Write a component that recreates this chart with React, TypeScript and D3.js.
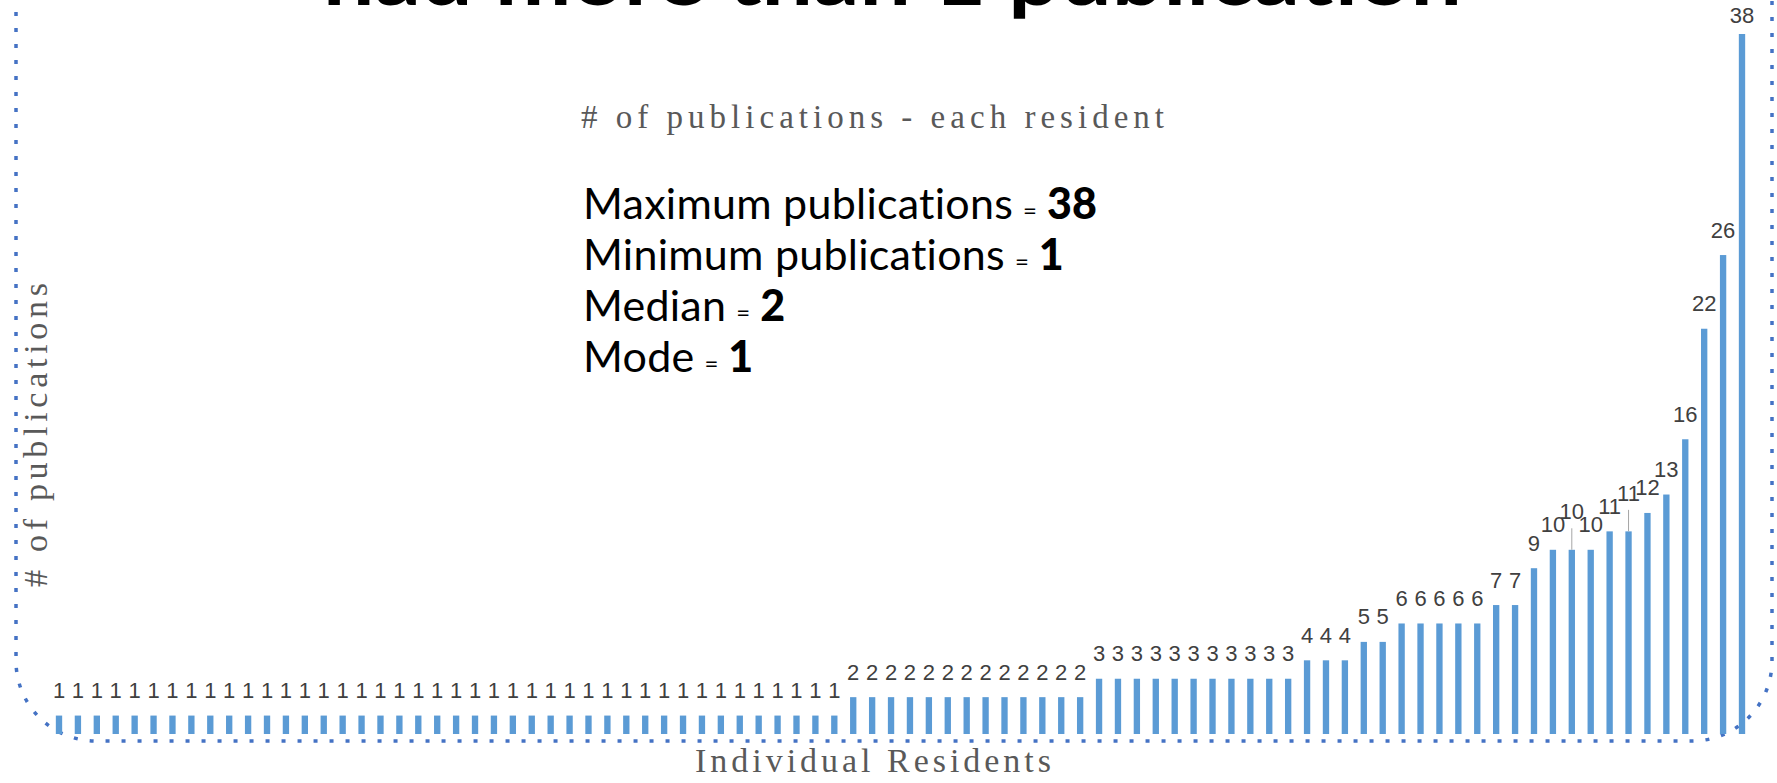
import * as d3 from "d3";
import React, { useEffect, useRef } from "react";

const publications = [
  1, 1, 1, 1, 1, 1, 1, 1, 1, 1, 1, 1, 1, 1, 1, 1, 1, 1, 1, 1, 1,
  1, 1, 1, 1, 1, 1, 1, 1, 1, 1, 1, 1, 1, 1, 1, 1, 1, 1, 1, 1, 1,
  2, 2, 2, 2, 2, 2, 2, 2, 2, 2, 2, 2, 2,
  3, 3, 3, 3, 3, 3, 3, 3, 3, 3, 3,
  4, 4, 4,
  5, 5,
  6, 6, 6, 6, 6,
  7, 7,
  9, 10, 10, 10, 11, 11, 12, 13, 16, 22, 26, 38,
];

// labels that Excel pushed up with a leader line
const liftedLabels = [80, 83];

const statNames = ["Maximum publications", "Minimum publications", "Median", "Mode"];
const statValues = ["38", "1", "2", "1"];

const W = 1777, H = 783;

export default function App() {
  const ref = useRef<SVGSVGElement>(null);

  useEffect(() => {
    const svg = d3.select(ref.current);
    svg.selectAll("*").remove();

    const x = d3.scalePoint<number>()
      .domain(publications.map((_, i) => i))
      .range([59, 1742]);
    const y = d3.scaleLinear().domain([0, 38]).range([734, 34]);
    const bw = x.step() * 0.335;

    // dotted rounded frame (top runs off the picture)
    const r = 80, fl = 16, fr = 1772, fb = 741;
    const frame = d3.path();
    frame.moveTo(fl, -20);
    frame.lineTo(fl, fb - r);
    frame.arcTo(fl, fb, fl + r, fb, r);
    frame.lineTo(fr - r, fb);
    frame.arcTo(fr, fb, fr, fb - r, r);
    frame.lineTo(fr, -20);
    svg.append("path")
      .attr("d", frame.toString())
      .attr("fill", "none")
      .attr("stroke", "#4472C4")
      .attr("stroke-width", 3.5)
      .attr("stroke-dasharray", "4 12");

    // bars
    svg.append("g")
      .selectAll("rect")
      .data(publications)
      .join("rect")
      .attr("x", (_, i) => x(i)! - bw / 2)
      .attr("y", d => y(d))
      .attr("width", bw)
      .attr("height", d => y(0) - y(d))
      .attr("fill", "#5B9BD5");

    const labelY = (d: number, i: number) => {
      const lift = liftedLabels.includes(i) ? 13 : 0;
      return Math.max(y(d) - 17.5 - lift, 23);
    };

    // leader lines
    svg.append("g")
      .selectAll("line")
      .data(liftedLabels)
      .join("line")
      .attr("x1", i => x(i)!)
      .attr("x2", i => x(i)!)
      .attr("y1", i => labelY(publications[i], i) + 9)
      .attr("y2", i => y(publications[i]))
      .attr("stroke", "#a6a6a6")
      .attr("stroke-width", 1);

    // data labels
    svg.append("g")
      .selectAll("text")
      .data(publications)
      .join("text")
      .attr("x", (_, i) => x(i)!)
      .attr("y", (d, i) => labelY(d, i))
      .attr("text-anchor", "middle")
      .attr("font-family", "'Liberation Sans', Arial, sans-serif")
      .attr("font-size", 22)
      .attr("fill", "#404040")
      .text(d => d);
  }, []);

  const serif = "'Liberation Serif', 'Times New Roman', serif";
  const sans = "Lato, 'Open Sans', sans-serif";

  return (
    <svg
      width={W}
      height={H}
      style={{ position: "absolute", left: 0, top: 0, background: "#fff" }}
    >
      <text
        x={323}
        y={5}
        fontFamily={sans}
        fontWeight={700}
        fontSize={80}
        textLength={1139}
        lengthAdjust="spacingAndGlyphs"
        fill="#000"
      >
        had more than 1 publication
      </text>
      <g ref={ref as any} />
      <text
        x={581}
        y={128}
        fontFamily={serif}
        fontSize={33}
        fill="#595959"
        textLength={583}
        lengthAdjust="spacing"
      >
        # of publications - each resident
      </text>
      {statNames.map((s, i) => (
        <text key={s} x={583} y={219 + i * 51} fontFamily={sans} fontSize={43} fill="#000">
          <tspan letterSpacing={0.25}>{s}</tspan>
          <tspan fontSize={24} dx={10}>=</tspan>
          <tspan fontWeight={900} dx={10}>{statValues[i]}</tspan>
        </text>
      ))}
      <text
        x={873}
        y={772}
        textAnchor="middle"
        fontFamily={serif}
        fontSize={34}
        fill="#595959"
        textLength={356}
        lengthAdjust="spacing"
      >
        Individual Residents
      </text>
      <text
        transform="translate(47,435) rotate(-90)"
        textAnchor="middle"
        fontFamily={serif}
        fontSize={34}
        fill="#595959"
        textLength={304}
        lengthAdjust="spacing"
      >
        # of publications
      </text>
    </svg>
  );
}
